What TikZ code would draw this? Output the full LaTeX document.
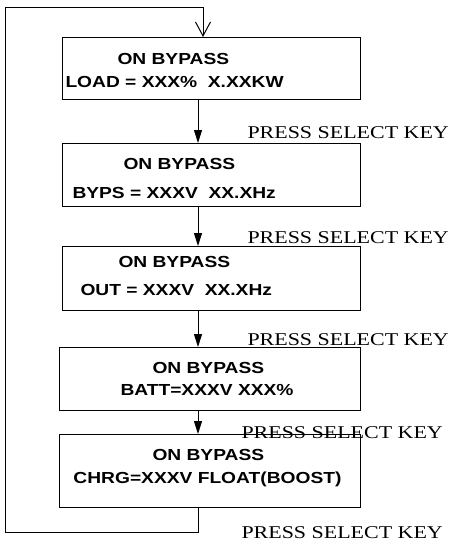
\documentclass[tikz,border=0pt]{standalone}
\usepackage{fontspec}
\setmainfont{Liberation Serif}
\newfontfamily\boxfont{Liberation Sans}
\usepackage{graphicx}
\usetikzlibrary{arrows.meta}
\newcommand{\wide}[1]{\scalebox{1.22}[1]{#1}}
\newcommand{\bwide}[1]{\scalebox{1.2}[1]{#1}}

\begin{document}
\begin{tikzpicture}[x=1pt,y=-1pt,line width=1pt,
	screen/.style={draw,rectangle,inner sep=0pt,anchor=north west,minimum width=298},
	txt/.style={inner sep=0pt,anchor=base west,font=\boxfont\bfseries\fontsize{16}{18}\selectfont},
	key/.style={inner sep=0pt,anchor=base west,font=\fontsize{18}{20}\selectfont},
	flow/.style={-{Triangle[length=13pt,width=8pt]}}]
	\useasboundingbox (0,0) rectangle (449,542);
	
	% display screens
	\node[screen,minimum height=62] (b1) at (62,37) {};
	\node[screen,minimum height=63] (b2) at (62,143) {};
	\node[screen,minimum height=64] (b3) at (62,246) {};
	\node[screen,minimum width=301,minimum height=63] (b4) at (59,347) {};
	\node[screen,minimum width=301,minimum height=73] (b5) at (59,434) {};
	
	\node[txt] (t1a) at (117,64) {\bwide{ON BYPASS}};
	\node[txt] (t1b) at (65,87) {\bwide{LOAD = XXX\%\ \ X.XXKW}};
	\node[txt] (t2a) at (123,169) {\bwide{ON BYPASS}};
	\node[txt] (t2b) at (72,198) {\bwide{BYPS = XXXV\ \ XX.XHz}};
	\node[txt] (t3a) at (118,267) {\bwide{ON BYPASS}};
	\node[txt] (t3b) at (80,295) {\bwide{OUT = XXXV\ \ XX.XHz}};
	\node[txt] (t4a) at (152,373) {\bwide{ON BYPASS}};
	\node[txt] (t4b) at (120,395) {\bwide{BATT=XXXV XXX\%}};
	\node[txt] (t5a) at (152,460) {\bwide{ON BYPASS}};
	\node[txt] (t5b) at (73,483) {\bwide{CHRG=XXXV FLOAT(BOOST)}};
	
	% key labels
	\node[key] (k1) at (247,138) {\wide{PRESS SELECT KEY}};
	\node[key] (k2) at (247,243) {\wide{PRESS SELECT KEY}};
	\node[key] (k3) at (247,345) {\wide{PRESS SELECT KEY}};
	\node[key] (k4) at (241,438) {\wide{PRESS SELECT KEY}};
	\node[key] (k5) at (241,538) {\wide{PRESS SELECT KEY}};
	
	% arrows
	\coordinate (ax) at (198,0);
	\coordinate (tx) at (203,0);
	\coordinate (lowleft) at (5,532);
	\coordinate (upleft) at (5,7);
	\foreach \i/\j in {1/2, 2/3, 3/4, 4/5}
	\draw[flow] (b\i.south -| ax) -- (b\j.north -| ax);
	
	\draw[-{Straight Barb[length=14pt,width=15pt]}] (b5.south -| ax) |- (lowleft) -- (upleft) -| (b1.north -| tx);
\end{tikzpicture}
\end{document}
